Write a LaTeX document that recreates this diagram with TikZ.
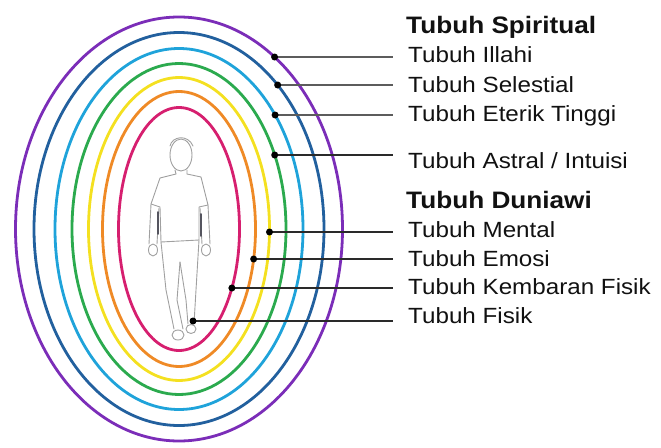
\documentclass[tikz,border=0pt]{standalone}
\usepackage{fontspec}
\setmainfont[FakeStretch=1.1]{Liberation Sans}
\begin{document}
\begin{tikzpicture}[x=1pt,y=-1pt,
  ring/.style={line width=2.8pt},
  lead/.style={line width=1.8pt, draw=leadc},
  leadsoft/.style={line width=2.4pt, draw=leadg},
  lbl/.style={anchor=base west, inner sep=0pt, font=\fontsize{22}{26}\selectfont, text=txt},
  head/.style={anchor=base west, inner sep=0pt, font=\fontsize{23.8}{28}\selectfont\bfseries, text=txt},
  sketch/.style={draw=figc, line width=0.9pt, line join=round, line cap=round},
  shade/.style={draw=figd, line width=1.8pt, line cap=round}]
\definecolor{cpurple}{HTML}{7B2DB8}
\definecolor{cnavy}{HTML}{22609E}
\definecolor{clblue}{HTML}{1FA3DA}
\definecolor{cgreen}{HTML}{2BAA4E}
\definecolor{cyellow}{HTML}{F4E020}
\definecolor{corange}{HTML}{EF8A26}
\definecolor{cmagenta}{HTML}{D61F6F}
\definecolor{leadc}{HTML}{2A2A2A}
\definecolor{leadg}{HTML}{5C5C5C}
\definecolor{txt}{HTML}{111111}
\definecolor{figc}{HTML}{A0A0A0}
\definecolor{figd}{HTML}{55555F}

\useasboundingbox (0,0) rectangle (661,447);

% seven nested aura layers
\coordinate (c) at (179,229);
\draw[ring, cpurple]  (c) ellipse [x radius=163.5, y radius=212];
\draw[ring, cnavy]    (c) ellipse [x radius=145,   y radius=196.5];
\draw[ring, clblue]   (c) ellipse [x radius=124,   y radius=180.5];
\draw[ring, cgreen]   (c) ellipse [x radius=107,   y radius=165.5];
\draw[ring, cyellow]  (c) ellipse [x radius=90.5,  y radius=151.5];
\draw[ring, corange]  (c) ellipse [x radius=76.5,  y radius=137.5];
\draw[ring, cmagenta] (c) ellipse [x radius=60.5,  y radius=121.5];

% walking figure
\draw[sketch] (181,155) ellipse [x radius=11, y radius=16];
\draw[sketch] (170,146) .. controls (172,136) and (188,134) .. (193,146);
\draw[sketch] (175,170) -- (176,174) (187,170) -- (187,174);
\draw[sketch] (176,174) -- (160,178) -- (151,204) -- (160,207) -- (161,242)
              -- (199,240) -- (199,207) -- (208,205) -- (201,177) -- (187,174);
\draw[sketch] (151,204) -- (149,244) (159,208) -- (157,244);
\draw[sketch] (200,208) -- (202,244) (208,205) -- (210,244);
\draw[sketch] (153,250) ellipse [x radius=4.5, y radius=6];
\draw[sketch] (206,250) ellipse [x radius=4.5, y radius=6];
\draw[shade] (158,212) -- (158,234);
\draw[shade] (201,214) -- (201,236);
\draw[sketch] (161,242) -- (166,290) -- (174,329);
\draw[sketch] (180,262) -- (177,300) -- (183,329);
\draw[sketch] (180,262) -- (186,300) -- (188,324);
\draw[sketch] (199,240) -- (196,290) -- (194,324);
\draw[sketch] (178,335) ellipse [x radius=6, y radius=5];
\draw[sketch] (191,329) ellipse [x radius=5, y radius=4.5];

% leader end points on each layer
\coordinate (d1) at ({179+163.5*sqrt(1-((57-229)/212)^2)}, 57);
\coordinate (d2) at ({179+145*sqrt(1-((85-229)/196.5)^2)}, 85);
\coordinate (d3) at ({179+124*sqrt(1-((115-229)/180.5)^2)}, 115);
\coordinate (d4) at ({179+107*sqrt(1-((155-229)/165.5)^2)}, 155);
\coordinate (d5) at ({179+90.5*sqrt(1-((232-229)/151.5)^2)}, 232);
\coordinate (d6) at ({179+76.5*sqrt(1-((259-229)/137.5)^2)}, 259);
\coordinate (d7) at ({179+60.5*sqrt(1-((288-229)/121.5)^2)}, 288);
\coordinate (d8) at (193,321);

\coordinate (e1) at (393,57);
\coordinate (e2) at (393,85);
\coordinate (e3) at (393,115);
\coordinate (e4) at (393,155);
\coordinate (e5) at (393,232);
\coordinate (e6) at (393,259);
\coordinate (e7) at (393,288);
\coordinate (e8) at (393,321);

\draw[leadsoft] (d1) -- (e1);
\draw[leadsoft] (d2) -- (e2);
\draw[leadsoft] (d3) -- (e3);
\draw[lead] (d4) -- (e4);
\draw[lead] (d5) -- (e5);
\draw[lead] (d6) -- (e6);
\draw[lead] (d7) -- (e7);
\draw[lead] (d8) -- (e8);
\foreach \d in {d1,d2,d3,d4,d5,d6,d7,d8}
  \fill[black] (\d) circle (3.5);

% labels
\node[head] (hs) at (406,33)  {Tubuh Spiritual};
\node[lbl]  (l1) at (408,62)  {Tubuh Illahi};
\node[lbl]  (l2) at (408,92)  {Tubuh Selestial};
\node[lbl]  (l3) at (408,121) {Tubuh Eterik Tinggi};
\node[lbl]  (l4) at (408,168) {Tubuh Astral / Intuisi};
\node[head] (hd) at (406,208) {Tubuh Duniawi};
\node[lbl]  (l5) at (408,237) {Tubuh Mental};
\node[lbl]  (l6) at (408,266) {Tubuh Emosi};
\node[lbl]  (l7) at (408,294) {Tubuh Kembaran Fisik};
\node[lbl]  (l8) at (408,323) {Tubuh Fisik};
\end{tikzpicture}
\end{document}
